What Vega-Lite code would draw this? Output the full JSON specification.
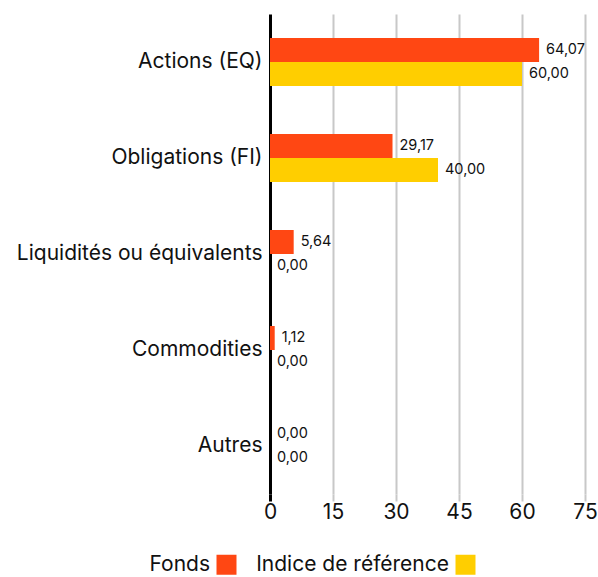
{
  "$schema": "https://vega.github.io/schema/vega-lite/v6.json",
  "width": 315,
  "height": 480,
  "autosize": "none",
  "padding": {"left": 270, "top": 14, "right": 13, "bottom": 83},
  "background": "white",
  "config": {
    "font": "Inter",
    "view": {"stroke": null},
    "locale": {"number": {"decimal": ",", "thousands": " ", "grouping": [3], "currency": ["", " €"]}}
  },
  "data": {
    "values": [
      {"categorie": "Actions (EQ)", "serie": "Fonds", "valeur": 64.07},
      {"categorie": "Actions (EQ)", "serie": "Indice de référence", "valeur": 60.00},
      {"categorie": "Obligations (FI)", "serie": "Fonds", "valeur": 29.17},
      {"categorie": "Obligations (FI)", "serie": "Indice de référence", "valeur": 40.00},
      {"categorie": "Liquidités ou équivalents", "serie": "Fonds", "valeur": 5.64},
      {"categorie": "Liquidités ou équivalents", "serie": "Indice de référence", "valeur": 0.00},
      {"categorie": "Commodities", "serie": "Fonds", "valeur": 1.12},
      {"categorie": "Commodities", "serie": "Indice de référence", "valeur": 0.00},
      {"categorie": "Autres", "serie": "Fonds", "valeur": 0.00},
      {"categorie": "Autres", "serie": "Indice de référence", "valeur": 0.00}
    ]
  },
  "encoding": {
    "y": {
      "field": "categorie", "type": "nominal", "sort": null,
      "scale": {"paddingInner": 0.5, "paddingOuter": 0.25},
      "axis": {"title": null, "domain": false, "ticks": false, "labelFontSize": 21, "labelColor": "#111", "labelPadding": 8, "labelLimit": 300}
    },
    "yOffset": {"field": "serie", "type": "nominal", "sort": null},
    "x": {
      "field": "valeur", "type": "quantitative",
      "scale": {"domain": [0, 75], "nice": false},
      "axis": {
        "title": null, "values": [0, 15, 30, 45, 60, 75], "domain": false,
        "grid": true, "labelFlush": false,
        "gridColor": {"condition": {"test": "datum.value === 0", "value": "#000000"}, "value": "#c8c8c8"},
        "gridWidth": {"condition": {"test": "datum.value === 0", "value": 3}, "value": 2},
        "tickColor": {"condition": {"test": "datum.value === 0", "value": "#000000"}, "value": "#c8c8c8"},
        "tickWidth": {"condition": {"test": "datum.value === 0", "value": 3}, "value": 2},
        "tickSize": 7,
        "labelFontSize": 21, "labelColor": "#111", "labelPadding": 0
      }
    },
    "color": {
      "field": "serie", "type": "nominal", "sort": null,
      "scale": {"domain": ["Fonds", "Indice de référence"], "range": ["#FF4713", "#FFCE00"]},
      "legend": {
        "title": null, "orient": "none", "direction": "horizontal",
        "legendX": -54, "legendY": 540,
        "symbolType": "square", "symbolSize": 400, "symbolStrokeWidth": 0,
        "labelAlign": "right", "labelOffset": -27, "labelLimit": 400,
        "labelFontSize": 21, "labelColor": "#111",
        "columnPadding": 19
      }
    }
  },
  "layer": [
    {"mark": {"type": "bar"}},
    {
      "mark": {"type": "text", "align": "left", "baseline": "middle", "dx": 7, "fontSize": 14.5, "color": "#111"},
      "encoding": {
        "text": {"field": "valeur", "type": "quantitative", "format": ".2f"},
        "color": {"value": "#111"}
      }
    }
  ]
}
